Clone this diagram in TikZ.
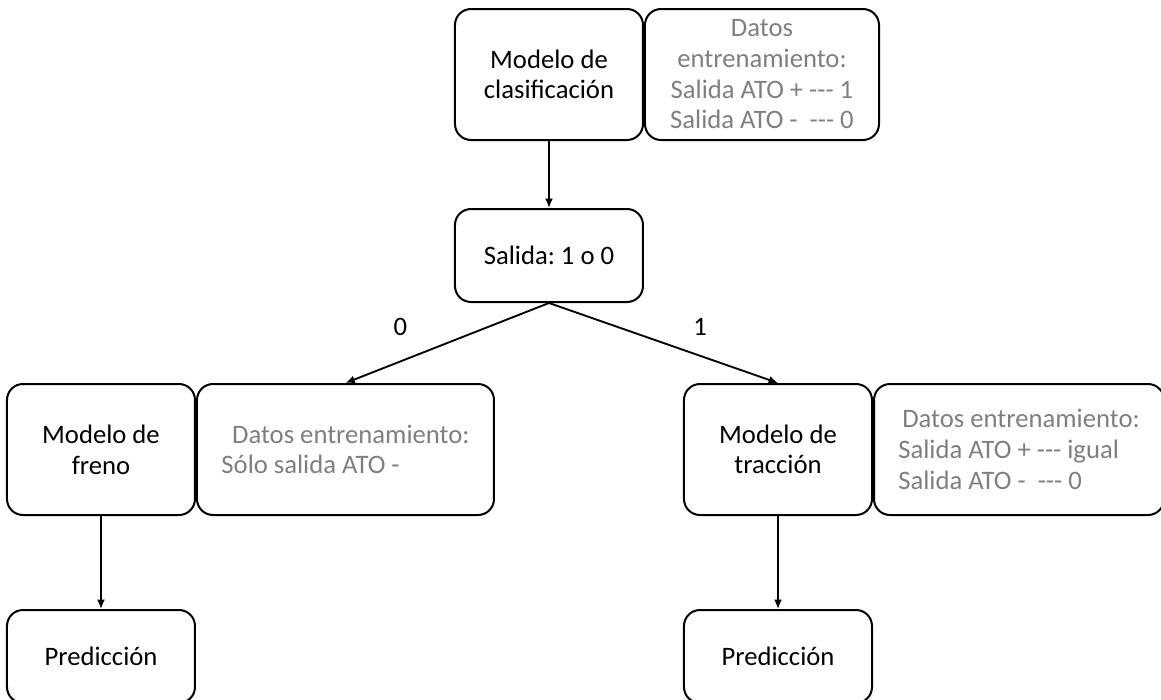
\documentclass[tikz,border=0pt]{standalone}
\usepackage{fontspec}
\setmainfont{Carlito}[Ligatures=TeXOff]
\usepackage{tikz}
\usetikzlibrary{positioning}
\usetikzlibrary{arrows.meta}
\definecolor{datagray}{RGB}{127,127,127}
\frenchspacing
\tikzset{
model_box/.style={rectangle, rounded corners=12pt, draw, line width=1.5pt, align=center, minimum width=141pt, minimum height=98.25pt, inner sep=0pt},
short_box/.style={model_box, minimum height=69.75pt},
data_box/.style={rectangle, rounded corners=12pt, draw, line width=1.5pt, text=datagray, minimum height=98.25pt, inner sep=0pt},
flow/.style={-{Latex[length=7pt, width=6pt]}, line width=1.4pt},
edge_label/.style={inner sep=0pt}
}

\begin{document}
\begin{tikzpicture}[font=\fontsize{20}{23}\selectfont]
    \useasboundingbox (-411.75pt,55.875pt) rectangle (459pt,-469.125pt);
    \node[model_box] (clasificacion) at (0,0) {Modelo de\\clasificación};
    \node[data_box, align=center, minimum width=175.5pt] (datos_clasificacion) [right=0pt of clasificacion] {Datos\\entrenamiento:\\Salida ATO + --- 1\\Salida ATO -\ \ --- 0};
    \node[short_box] (salida) [below=50.25pt of clasificacion] {Salida: 1 o 0};
    \node[model_box] (freno) [below left=60pt and 193.5pt of salida] {Modelo de\\freno};
    \node[data_box, align=left, minimum width=222.75pt] (datos_freno) [right=0pt of freno] {\hspace*{8pt}Datos entrenamiento:\\Sólo salida ATO -};
    \node[model_box] (traccion) [below right=60pt and 29.25pt of salida] {Modelo de\\tracción};
    \node[data_box, align=left, minimum width=217.5pt] (datos_traccion) [right=0pt of traccion] {\hspace*{3pt}Datos entrenamiento:\\Salida ATO + --- igual\\Salida ATO -\ \ --- 0};
    \node[short_box] (prediccion_freno) [below=69.75pt of freno] {Predicción};
    \node[short_box] (prediccion_traccion) [below=69.75pt of traccion] {Predicción};
    \draw[flow] (clasificacion) -- (salida);
    \draw[flow] (salida.south) -- node[edge_label, pos=0.73, above=18.3pt] {0} (datos_freno.north);
    \draw[flow] (salida.south) -- node[edge_label, pos=0.66, above=14.4pt] {1} (traccion.north);
    \draw[flow] (freno) -- (prediccion_freno);
    \draw[flow] (traccion) -- (prediccion_traccion);
\end{tikzpicture}
\end{document}
